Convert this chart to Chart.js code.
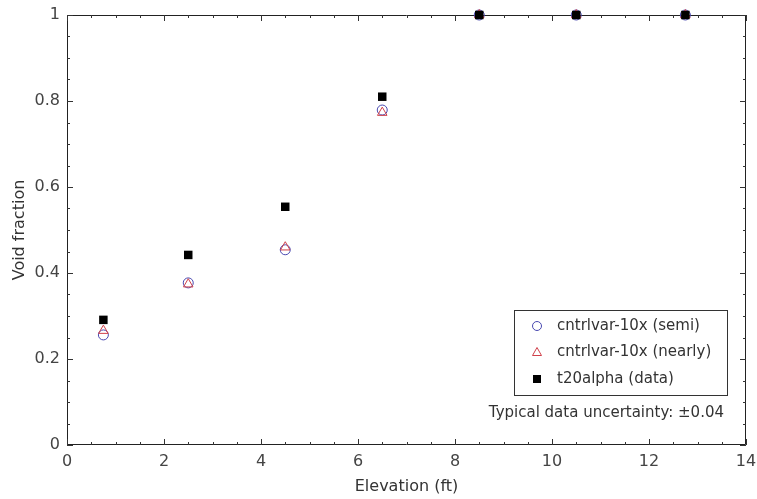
<!DOCTYPE html>
<html>
<head>
<meta charset="utf-8">
<script src="https://cdn.jsdelivr.net/npm/chart.js@4"></script>
<style>
  html, body { margin: 0; padding: 0; background: #fff; }
  #wrap { width: 757px; height: 499px; }
</style>
</head>
<body>
<div id="wrap"><canvas id="voidChart" width="757" height="499"></canvas></div>
<script>
// elevations (ft)
const elevations = [0.75, 2.5, 4.5, 6.5, 8.5, 10.5, 12.75];

// void fraction series
const semiValues   = [0.256, 0.377, 0.454, 0.779, 1.0, 1.0, 1.0];
const nearlyValues = [0.266, 0.374, 0.460, 0.773, 1.0, 1.0, 1.0];
const dataValues   = [0.291, 0.442, 0.554, 0.810, 1.0, 1.0, 1.0];

const seriesLabels = ['cntrlvar-10x (semi)', 'cntrlvar-10x (nearly)', 't20alpha (data)'];
const xTickLabels = [0, 2, 4, 6, 8, 10, 12, 14];
const yTickLabels = [0, 0.2, 0.4, 0.6, 0.8, 1];
const noteText = 'Typical data uncertainty: \u00b10.04';

const FONT = '"DejaVu Sans", Verdana, sans-serif';

function toPoints(xs, ys) {
    return xs.map((x, i) => ({ x: x, y: ys[i] }));
}

// frame with inward ticks on all four sides
const framePlugin = {
    id: 'frame',
    beforeDatasetsDraw(chart) {
        const { ctx, chartArea: a, scales } = chart;
        ctx.save();
        ctx.strokeStyle = '#222';
        ctx.lineWidth = 1;
        ctx.beginPath();
        ctx.rect(a.left + 0.5, a.top + 0.5, a.right - a.left - 1, a.bottom - a.top - 1);
        ctx.stroke();

        ctx.strokeStyle = '#333';
        ctx.beginPath();
        for (let v = 0; v <= 14.001; v += 0.5) {
            const px = Math.round(scales.x.getPixelForValue(v)) + 0.5;
            const len = Math.abs(v % 2) < 0.01 ? 6 : 3;
            ctx.moveTo(px, a.bottom); ctx.lineTo(px, a.bottom - len);
            ctx.moveTo(px, a.top); ctx.lineTo(px, a.top + len);
        }
        for (let i = 0; i <= 20; i++) {
            const v = i * 0.05;
            const py = Math.round(scales.y.getPixelForValue(v)) + 0.5;
            const len = i % 4 === 0 ? 6 : 3;
            ctx.moveTo(a.left, py); ctx.lineTo(a.left + len, py);
            ctx.moveTo(a.right, py); ctx.lineTo(a.right - len, py);
        }
        ctx.stroke();
        ctx.restore();
    }
};

// legend box and note inside the plot
const insideLegend = {
    id: 'insideLegend',
    afterDraw(chart) {
        const { ctx, chartArea: a } = chart;
        const boxRight = a.right - 19;
        const boxLeft = boxRight - 213;
        const boxTop = a.top + 295;
        const boxH = 85;
        ctx.save();
        ctx.fillStyle = '#fff';
        ctx.fillRect(boxLeft, boxTop, boxRight - boxLeft, boxH);
        ctx.strokeStyle = '#333';
        ctx.lineWidth = 1;
        ctx.strokeRect(boxLeft + 0.5, boxTop + 0.5, boxRight - boxLeft, boxH);

        ctx.font = '15px ' + FONT;
        ctx.textBaseline = 'middle';
        chart.data.datasets.forEach((ds, i) => {
            const y = boxTop + 16 + i * 26.5;
            const sx = boxLeft + 23;
            ctx.strokeStyle = ds.borderColor;
            ctx.fillStyle = ds.backgroundColor;
            ctx.lineWidth = 1;
            ctx.beginPath();
            if (ds.pointStyle === 'circle') {
                ctx.arc(sx, y, 4.5, 0, Math.PI * 2);
                ctx.stroke();
            } else if (ds.pointStyle === 'triangle') {
                ctx.moveTo(sx, y - 5);
                ctx.lineTo(sx + 4.5, y + 3);
                ctx.lineTo(sx - 4.5, y + 3);
                ctx.closePath();
                ctx.stroke();
            } else {
                ctx.fillRect(sx - 4, y - 4, 8, 8);
            }
            ctx.fillStyle = '#333';
            ctx.textAlign = 'left';
            ctx.fillText(ds.label, boxLeft + 43, y);
        });

        ctx.fillStyle = '#333';
        ctx.textAlign = 'right';
        ctx.fillText(noteText, a.right - 22, a.top + 398);
        ctx.restore();
    }
};

new Chart(document.getElementById('voidChart'), {
    type: 'scatter',
    data: {
        datasets: [{
            label: seriesLabels[0],
            data: toPoints(elevations, semiValues),
            pointStyle: 'circle',
            pointRadius: 5,
            borderWidth: 1,
            borderColor: '#4848b0',
            backgroundColor: 'rgba(0,0,0,0)',
            clip: false,
            order: 2
        }, {
            label: seriesLabels[1],
            data: toPoints(elevations, nearlyValues),
            pointStyle: 'triangle',
            pointRadius: 5.5,
            borderWidth: 1,
            borderColor: '#d0404a',
            backgroundColor: 'rgba(0,0,0,0)',
            clip: false,
            order: 1
        }, {
            label: seriesLabels[2],
            data: toPoints(elevations, dataValues),
            pointStyle: 'rect',
            pointRadius: 6,
            borderWidth: 0,
            borderColor: '#000',
            backgroundColor: '#000',
            clip: false,
            order: 0
        }]
    },
    options: {
        responsive: false,
        animation: false,
        layout: { padding: { top: 15, right: 11, left: 0, bottom: 0 } },
        plugins: {
            legend: { display: false },
            tooltip: { enabled: false }
        },
        scales: {
            x: {
                type: 'linear',
                min: 0,
                max: 14,
                afterFit(scale) {
                    scale.height = 54;
                    scale.paddingLeft = 0;
                    scale.paddingRight = 0;
                },
                afterBuildTicks(scale) { scale.ticks = xTickLabels.map(v => ({ value: v })); },
                grid: { display: false, drawTicks: false },
                border: { display: false },
                ticks: {
                    padding: 7,
                    color: '#444',
                    font: { family: FONT, size: 16 },
                    maxRotation: 0
                },
                title: {
                    display: true,
                    text: 'Elevation (ft)',
                    color: '#333',
                    font: { family: FONT, size: 16 },
                    padding: { top: 0, bottom: 3 }
                }
            },
            y: {
                type: 'linear',
                min: 0,
                max: 1,
                afterFit(scale) {
                    scale.width = 67;
                    scale.paddingTop = 0;
                    scale.paddingBottom = 0;
                },
                afterBuildTicks(scale) { scale.ticks = yTickLabels.map(v => ({ value: v })); },
                grid: { display: false, drawTicks: false },
                border: { display: false },
                ticks: {
                    padding: 7,
                    color: '#444',
                    font: { family: FONT, size: 16 },
                    callback: v => String(v)
                },
                title: {
                    display: true,
                    text: 'Void fraction',
                    color: '#333',
                    font: { family: FONT, size: 16 },
                    padding: { top: 10, bottom: 0 }
                }
            }
        }
    },
    plugins: [framePlugin, insideLegend]
});
</script>
</body>
</html>
